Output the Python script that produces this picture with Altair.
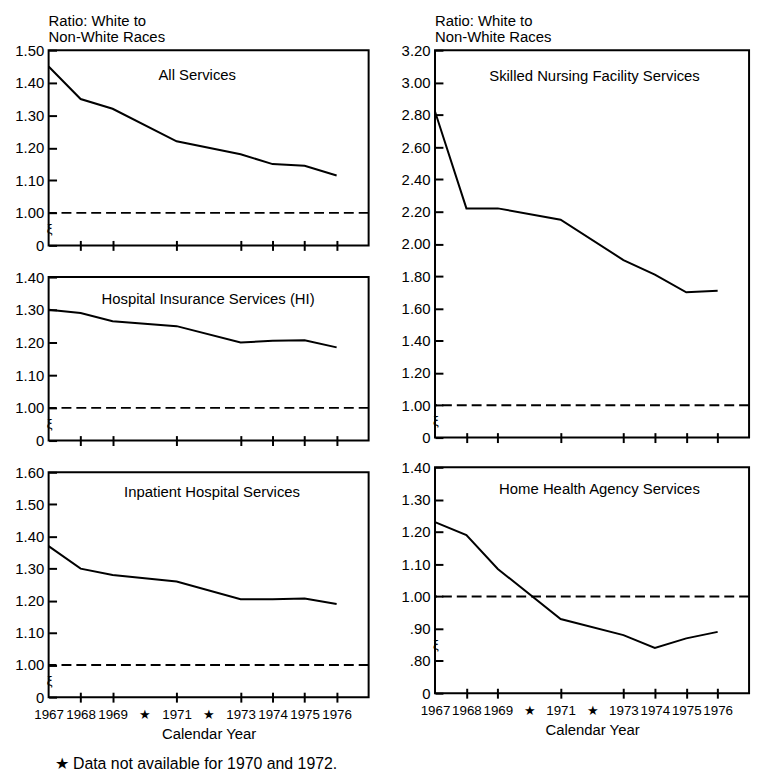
import altair as alt
import pandas as pd

FONT = "Liberation Sans"

years = [1967, 1968, 1969, 1971, 1973, 1974, 1975, 1976]
all_services = [1.45, 1.35, 1.32, 1.22, 1.18, 1.15, 1.145, 1.115]
hospital_ins = [1.30, 1.29, 1.265, 1.25, 1.20, 1.205, 1.207, 1.185]
inpatient = [1.37, 1.30, 1.28, 1.26, 1.205, 1.205, 1.207, 1.19]
skilled = [2.82, 2.22, 2.22, 2.15, 1.90, 1.81, 1.70, 1.71]
home_health = [1.23, 1.19, 1.085, 0.93, 0.88, 0.84, 0.87, 0.89]

axis_years = [1967, 1968, 1969, 1970, 1971, 1972, 1973, 1974, 1975, 1976]
missing_years = [1970, 1972]
parity = [1.0]
y_title = ["Ratio: White to", "Non-White Races"]
x_title = "Calendar Year"
footnote = "\u2605 Data not available for 1970 and 1972."

ticks_all = [0.9, 1.0, 1.1, 1.2, 1.3, 1.4, 1.5]
ticks_hi = [0.9, 1.0, 1.1, 1.2, 1.3, 1.4]
ticks_inp = [0.9, 1.0, 1.1, 1.2, 1.3, 1.4, 1.5, 1.6]
ticks_snf = [0.8, 1.0, 1.2, 1.4, 1.6, 1.8, 2.0, 2.2, 2.4, 2.6, 2.8, 3.0, 3.2]
ticks_hha = [0.7, 0.8, 0.9, 1.0, 1.1, 1.2, 1.3, 1.4]


def panel(values, name, yticks, w, h, bottom, head, name_pos, foot=False):
    brk = yticks[0]
    df = pd.DataFrame({"year": years, "ratio": values})
    miss_test = " || ".join(f"datum.value == {v}" for v in [1967] + missing_years)
    star_test = " || ".join(f"datum.value == {v}" for v in missing_years)
    xaxis = alt.Axis(
        values=axis_years, format="d",
        labelExpr=f"{star_test} ? '\u2605' : datum.label",
        labels=bottom, title=x_title if bottom else None,
        offset=-5, tickSize=10, tickWidth=2, domain=False, grid=False,
        labelFlush=False, labelOverlap=False, labelPadding=6,
        labelFontSize=13.5, titleFontSize=15, titleFontWeight="normal",
        titlePadding=5,
        tickOpacity={"condition": {"test": miss_test, "value": 0}, "value": 1},
    )
    yaxis = alt.Axis(
        values=yticks,
        labelExpr=(f"datum.value < {brk + 0.01} ? '0' : datum.value < 0.99 ? "
                   "replace(format(datum.value, '.2f'), '0.', '.') : format(datum.value, '.2f')"),
        offset=-8, tickSize=8, tickWidth=2, domain=False, grid=False,
        labelPadding=5, labelFontSize=15, title=None, labelOverlap=False,
    )
    yscale = alt.Scale(domain=[yticks[0], yticks[-1]], nice=False, zero=False)
    x = alt.X("year:Q", scale=alt.Scale(domain=[1967, 1977], nice=False, zero=False), axis=xaxis)
    y = alt.Y("ratio:Q", scale=yscale, axis=yaxis)

    line = alt.Chart(df).mark_line(color="black", strokeWidth=2).encode(x=x, y=y)
    ref = alt.Chart(pd.DataFrame({"ratio": parity})).mark_rule(
        color="black", strokeWidth=2, strokeDash=[10, 5]).encode(y=y)
    label = alt.Chart(pd.DataFrame({"t": [name]})).mark_text(
        fontSize=15, font=FONT, align="center", baseline="middle", color="black"
    ).encode(text="t:N", x=alt.value(name_pos[0]), y=alt.value(name_pos[1]))
    zig = alt.Chart(pd.DataFrame({"t": ["\u03be"], "ratio": [(brk + 1.0) / 2]})).mark_text(
        fontSize=13, font=FONT, align="center", baseline="middle", color="black", dx=1
    ).encode(text="t:N", x=alt.value(0), y=y)
    layers = [line, ref, label, zig]
    if foot:
        layers.append(alt.Chart(pd.DataFrame({"t": [footnote]})).mark_text(
            fontSize=16, font=FONT, align="left", baseline="middle", color="black"
        ).encode(text="t:N", x=alt.value(6), y=alt.value(h + 67)))
    ch = alt.layer(*layers).properties(width=w, height=h)
    if head:
        ch = ch.properties(title=alt.TitleParams(
            y_title, anchor="start", frame="group", fontSize=15, fontWeight="normal",
            font=FONT, lineHeight=16, offset=-2, color="black"))
    return ch


p1 = panel(all_services, "All Services", ticks_all, 323, 197, False, True, (150, 25))
p2 = panel(hospital_ins, "Hospital Insurance Services (HI)", ticks_hi, 323, 165, False, False, (161, 22))
p3 = panel(inpatient, "Inpatient Hospital Services", ticks_inp, 323, 227, True, False, (165, 20), foot=True)
p4 = panel(skilled, "Skilled Nursing Facility Services", ticks_snf, 317, 391, False, True, (161, 26))
p5 = panel(home_health, "Home Health Agency Services", ticks_hha, 317, 228, True, False, (166, 22))

left = alt.vconcat(p1, p2, p3, spacing=32, bounds="flush")
right = alt.vconcat(p4, p5, spacing=30, bounds="flush")
chart = alt.hconcat(left, right, spacing=29).properties(
    padding={"left": 5, "top": 2, "right": 5, "bottom": 5}
).configure(
    font=FONT, background="white"
).configure_view(stroke="black", strokeWidth=2).configure_axis(
    labelFont=FONT, titleFont=FONT, labelColor="black", titleColor="black", tickColor="black"
)

chart.save("out.html", embed_options={"renderer": "svg", "actions": False})
